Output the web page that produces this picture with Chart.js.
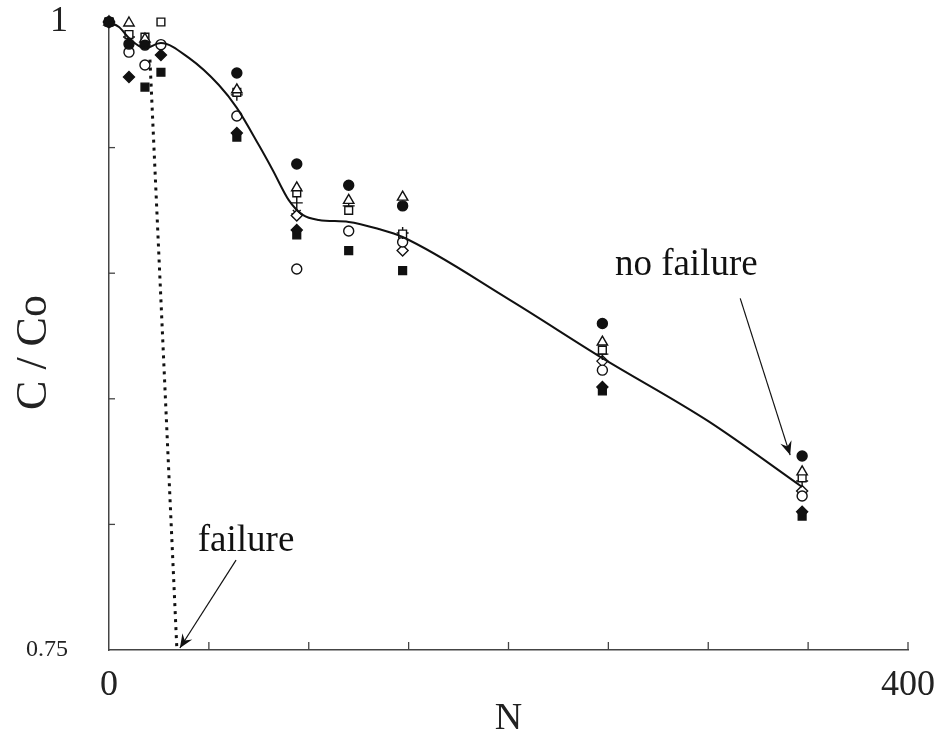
<!DOCTYPE html>
<html>
<head>
<meta charset="utf-8">
<script src="https://cdn.jsdelivr.net/npm/chart.js@4.4.1/dist/chart.umd.min.js"></script>
<style>
  body { margin: 0; background: #fff; }
  #wrap { width: 934px; height: 738px; }
</style>
</head>
<body>
<div id="wrap"><canvas id="c" width="934" height="738"></canvas></div>
<script>
// cycles N at which samples were measured
const cycles = [0, 10, 18, 26, 64, 94, 120, 147, 247, 347];

// C/Co per sample (null = not visible)
const filledCircle  = [1.0, 0.9912, 0.9908, null,  0.9797, 0.9435, 0.9350, 0.9268, 0.8800, 0.8272];
const openTriangle  = [1.0, 0.9996, 0.9932, null,  0.9730, 0.9340, 0.9290, 0.9303, 0.8726, 0.8209];
const openSquare    = [1.0, 0.9950, 0.9940, 1.0,   0.9720, 0.9320, 0.9250, 0.9156, 0.8694, 0.8185];
const plusMark      = [1.0, 0.9940, null,   null,  0.9710, 0.9280, 0.9268, 0.9160, 0.8678, 0.8173];
const openCircle    = [1.0, 0.9880, 0.9829, 0.9910, 0.9626, 0.9017, 0.9168, 0.9124, 0.8614, 0.8113];
const openDiamond   = [1.0, null,   null,   null,  null,   0.9230, null,   0.9090, 0.8650, 0.8133];
const starMark      = [1.0, null,   null,   null,  null,   0.9236, null,   null,   null,   null];
const filledDiamond = [1.0, 0.9781, null,   0.9869, 0.9558, 0.9172, null,   null,   0.8547, 0.8050];
const filledSquare  = [1.0, null,   0.9741, 0.9800, 0.9542, 0.9152, 0.9090, 0.9010, 0.8531, 0.8033];

// fitted trend (solid line)
const fitN = [0, 5, 10, 18, 26, 40, 55, 64, 75, 82, 90, 97, 105, 120, 135, 147, 200, 247, 300, 347];
const fitC = [1.0, 0.998, 0.9936, 0.9896, 0.9916, 0.9857, 0.9749, 0.9658, 0.951, 0.941, 0.9291,
              0.9232, 0.9212, 0.9204, 0.9176, 0.9144, 0.8897, 0.8662, 0.8411, 0.8149];

// failure curve (dotted)
const failN = [20.5, 34];
const failC = [0.985, 0.75];

// text + arrows: [label, textN, textC, fromN, fromC, toN, toC]
const notes = [
  ['no failure', 289, 0.9033, 316, 0.890, 341, 0.8276],
  ['failure', 68.6, 0.7934, 63.6, 0.7858, 35.5, 0.7508]
];

const SERIF = '"Liberation Serif", "DejaVu Serif", serif';

function pts(ys) {
  return cycles.map((n, i) => ys[i] == null ? null : { x: n, y: ys[i] }).filter(p => p);
}

function marker(label, ys, style, filled, r = 5) {
  return {
    label: label,
    data: pts(ys),
    pointStyle: style,
    pointRadius: r,
    pointBorderWidth: 1.4,
    pointBorderColor: '#111',
    pointBackgroundColor: filled ? '#111' : '#fff',
    showLine: false,
    clip: false
  };
}

// inward tick marks + annotations
const extras = {
  id: 'extras',
  afterDatasetsDraw(chart) {
    const { ctx, scales: { x, y } } = chart;
    ctx.save();
    ctx.strokeStyle = '#444';
    ctx.lineWidth = 1.3;
    for (let v = 50; v <= 400; v += 50) {
      const px = x.getPixelForValue(v);
      ctx.beginPath();
      ctx.moveTo(px, y.bottom);
      ctx.lineTo(px, y.bottom - 8);
      ctx.stroke();
    }
    [0.8, 0.85, 0.9, 0.95].forEach(v => {
      const py = y.getPixelForValue(v);
      ctx.beginPath();
      ctx.moveTo(x.left, py);
      ctx.lineTo(x.left + 6, py);
      ctx.stroke();
    });

    ctx.fillStyle = '#111';
    ctx.strokeStyle = '#111';
    ctx.font = '37px ' + SERIF;
    ctx.textAlign = 'center';
    ctx.textBaseline = 'middle';
    notes.forEach(([txt, tn, tc, fn, fc, an, ac]) => {
      ctx.fillText(txt, x.getPixelForValue(tn), y.getPixelForValue(tc));
      const x1 = x.getPixelForValue(fn), y1 = y.getPixelForValue(fc);
      const x2 = x.getPixelForValue(an), y2 = y.getPixelForValue(ac);
      ctx.lineWidth = 1.2;
      ctx.beginPath();
      ctx.moveTo(x1, y1);
      ctx.lineTo(x2, y2);
      ctx.stroke();
      const a = Math.atan2(y2 - y1, x2 - x1);
      const L = 15, w = 0.4;
      ctx.beginPath();
      ctx.moveTo(x2, y2);
      ctx.lineTo(x2 - L * Math.cos(a - w), y2 - L * Math.sin(a - w));
      ctx.lineTo(x2 - L * 0.6 * Math.cos(a), y2 - L * 0.6 * Math.sin(a));
      ctx.lineTo(x2 - L * Math.cos(a + w), y2 - L * Math.sin(a + w));
      ctx.closePath();
      ctx.fill();
    });
    ctx.restore();
  }
};

new Chart(document.getElementById('c'), {
  type: 'scatter',
  data: {
    datasets: [
      {
        label: 'fit',
        data: fitN.map((n, i) => ({ x: n, y: fitC[i] })),
        showLine: true,
        borderColor: '#111',
        borderWidth: 2,
        pointRadius: 0,
        cubicInterpolationMode: 'monotone',
        clip: false
      },
      {
        label: 'failure',
        data: failN.map((n, i) => ({ x: n, y: failC[i] })),
        showLine: true,
        borderColor: '#111',
        borderWidth: 3,
        borderDash: [3, 5],
        pointRadius: 0,
        clip: false
      },
      marker('A', filledCircle, 'circle', true, 5),
      marker('B', openTriangle, 'triangle', false, 6),
      marker('C', openSquare, 'rect', false, 5.5),
      marker('D', plusMark, 'cross', false, 6),
      marker('E', openCircle, 'circle', false, 5),
      marker('F', openDiamond, 'rectRot', false, 5.5),
      marker('G', starMark, 'star', false, 5.5),
      marker('H', filledDiamond, 'rectRot', true, 5.5),
      marker('I', filledSquare, 'rect', true, 5.5)
    ]
  },
  options: {
    responsive: false,
    animation: false,
    layout: { padding: { top: 22, right: 26, left: 0, bottom: 0 } },
    plugins: { legend: { display: false }, tooltip: { enabled: false } },
    scales: {
      x: {
        type: 'linear',
        min: 0,
        max: 400,
        grid: { display: false },
        border: { color: '#444', width: 1.5 },
        ticks: {
          stepSize: 50,
          padding: 6,
          maxRotation: 0,
          color: '#222',
          font: { family: SERIF, size: 36 },
          callback: v => (v === 0 || v === 400) ? String(v) : ''
        },
        title: {
          display: true,
          text: 'N',
          color: '#222',
          font: { family: SERIF, size: 38, lineHeight: 1 },
          padding: { top: 0, bottom: 0 }
        },
        afterFit: s => { s.height = 88; s.paddingLeft = 0; s.paddingRight = 0; }
      },
      y: {
        min: 0.75,
        max: 1,
        grid: { display: false },
        border: { color: '#444', width: 1.5 },
        ticks: {
          stepSize: 0.05,
          padding: 33,
          color: '#222',
          font: ctx => ({ family: SERIF, size: ctx.tick && ctx.tick.value === 1 ? 36 : 24 }),
          callback: v => (Math.abs(v - 1) < 1e-9) ? '1' : (Math.abs(v - 0.75) < 1e-9 ? '0.75' : '')
        },
        title: {
          display: true,
          text: 'C / Co\u00a0\u00a0\u00a0',
          color: '#222',
          font: { family: SERIF, size: 44 },
          padding: { top: 8, bottom: 0 }
        },
        afterFit: s => { s.width = 109; s.paddingTop = 0; s.paddingBottom = 0; }
      }
    }
  },
  plugins: [extras]
});
</script>
</body>
</html>
